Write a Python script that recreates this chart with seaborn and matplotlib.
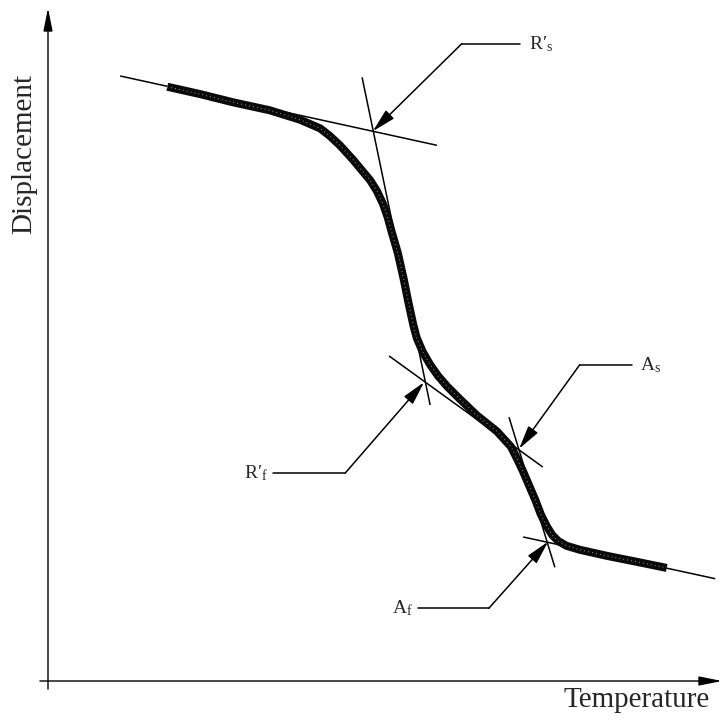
import matplotlib
matplotlib.use("Agg")
import matplotlib.pyplot as plt
import seaborn as sns
import pandas as pd

# thick measured curve (temperature vs displacement, arbitrary units 0-100)
temperature = [17.7, 22.6, 27.4, 32.9, 37.4, 40.4, 41.8, 43.3, 45.3, 47.8,
               48.8, 49.7, 50.4, 51.0, 51.9, 52.8, 53.4, 54.2, 54.7, 55.6,
               56.7, 57.9, 59.2, 61.1, 63.6, 66.6, 68.7, 69.7, 70.5, 72.3,
               73.1, 74.0, 74.8, 75.7, 76.9, 78.9, 82.9, 87.4, 91.8]
displacement = [88.3, 87.2, 86.0, 84.8, 83.4, 82.1, 81.0, 79.6, 77.4, 74.4,
                72.8, 70.9, 68.9, 66.7, 63.6, 59.6, 56.6, 52.9, 51.0, 48.9,
                47.0, 45.3, 43.8, 41.9, 39.5, 37.1, 34.8, 32.8, 31.1, 26.9,
                24.8, 23.0, 21.7, 20.8, 20.1, 19.5, 18.6, 17.7, 16.8]

# thin tangent lines: (x0, y0, x1, y1)
tangents = [
    (10.7, 89.9, 57.7, 79.6),
    (46.6, 89.7, 56.7, 41.0),
    (50.6, 48.3, 73.4, 31.8),
    (68.4, 39.2, 75.2, 16.9),
    (70.5, 21.4, 99.0, 15.2),
]

# transformation points
point_labels = ["R\u2032$_\\mathregular{s}$", "R\u2032$_\\mathregular{f}$",
                "A$_\\mathregular{s}$", "A$_\\mathregular{f}$"]
point_x = [48.2, 55.8, 69.9, 74.2]
point_y = [81.7, 44.4, 34.5, 20.7]
# leader lines: elbow and end of horizontal part
elbow_x = [61.4, 44.1, 78.9, 65.4]
elbow_y = [94.7, 30.9, 47.0, 10.8]
end_x = [70.0, 33.4, 86.6, 54.9]

sns.set_theme(style="white")
plt.rcParams["font.family"] = ["Liberation Serif", "DejaVu Serif"]
plt.rcParams["mathtext.fontset"] = "stix"

fig = plt.figure(figsize=(7.25, 7.23), dpi=100)
ax = fig.add_axes([48 / 725, 42 / 723, 674 / 725, 673 / 723])
ax.set_xlim(0, 100)
ax.set_ylim(0, 100)
ax.axis("off")

df = pd.DataFrame({"Temperature": temperature, "Displacement": displacement})

for x0, y0, x1, y1 in tangents:
    ax.plot([x0, x1], [y0, y1], color="black", lw=1.1, solid_capstyle="butt")

sns.lineplot(data=df, x="Temperature", y="Displacement", sort=False,
             color="#0a0a0a", lw=5.8, ax=ax, solid_capstyle="butt",
             solid_joinstyle="round")
ax.plot(temperature, displacement, color="white", lw=0.8,
        ls=(0, (0.6, 3)), alpha=0.7, solid_joinstyle="round")

for lab, px, py, ex, ey, hx in zip(point_labels, point_x, point_y,
                                   elbow_x, elbow_y, end_x):
    ax.plot([hx, ex], [ey, ey], color="black", lw=1.1)
    ax.annotate("", xy=(px, py), xytext=(ex, ey),
                arrowprops=dict(arrowstyle="-|>,head_length=0.9,head_width=0.22",
                                color="black", lw=1.1, shrinkA=0, shrinkB=0,
                                mutation_scale=16))
    if hx > ex:
        ax.text(hx + 1.3, ey, lab, ha="left", va="center", fontsize=14)
    else:
        ax.text(hx - 0.8, ey, lab, ha="right", va="center", fontsize=14)

# axes with arrow heads
ax.annotate("", xy=(0, 1.0), xytext=(0, -0.012), xycoords="axes fraction",
            arrowprops=dict(arrowstyle="-|>,head_length=1.0,head_width=0.2",
                            color="black", lw=1.0, shrinkA=0, shrinkB=0,
                            mutation_scale=14))
ax.annotate("", xy=(1.0, 0), xytext=(-0.012, 0), xycoords="axes fraction",
            arrowprops=dict(arrowstyle="-|>,head_length=1.0,head_width=0.2",
                            color="black", lw=1.0, shrinkA=0, shrinkB=0,
                            mutation_scale=14))

ax.text(87.4, -2.8, "Temperature", ha="center", va="center", fontsize=21,
        clip_on=False)
ax.text(-3.6, 78.3, "Displacement", ha="center", va="center", fontsize=21,
        rotation=90, clip_on=False)

fig.savefig("out.png", dpi=100)
